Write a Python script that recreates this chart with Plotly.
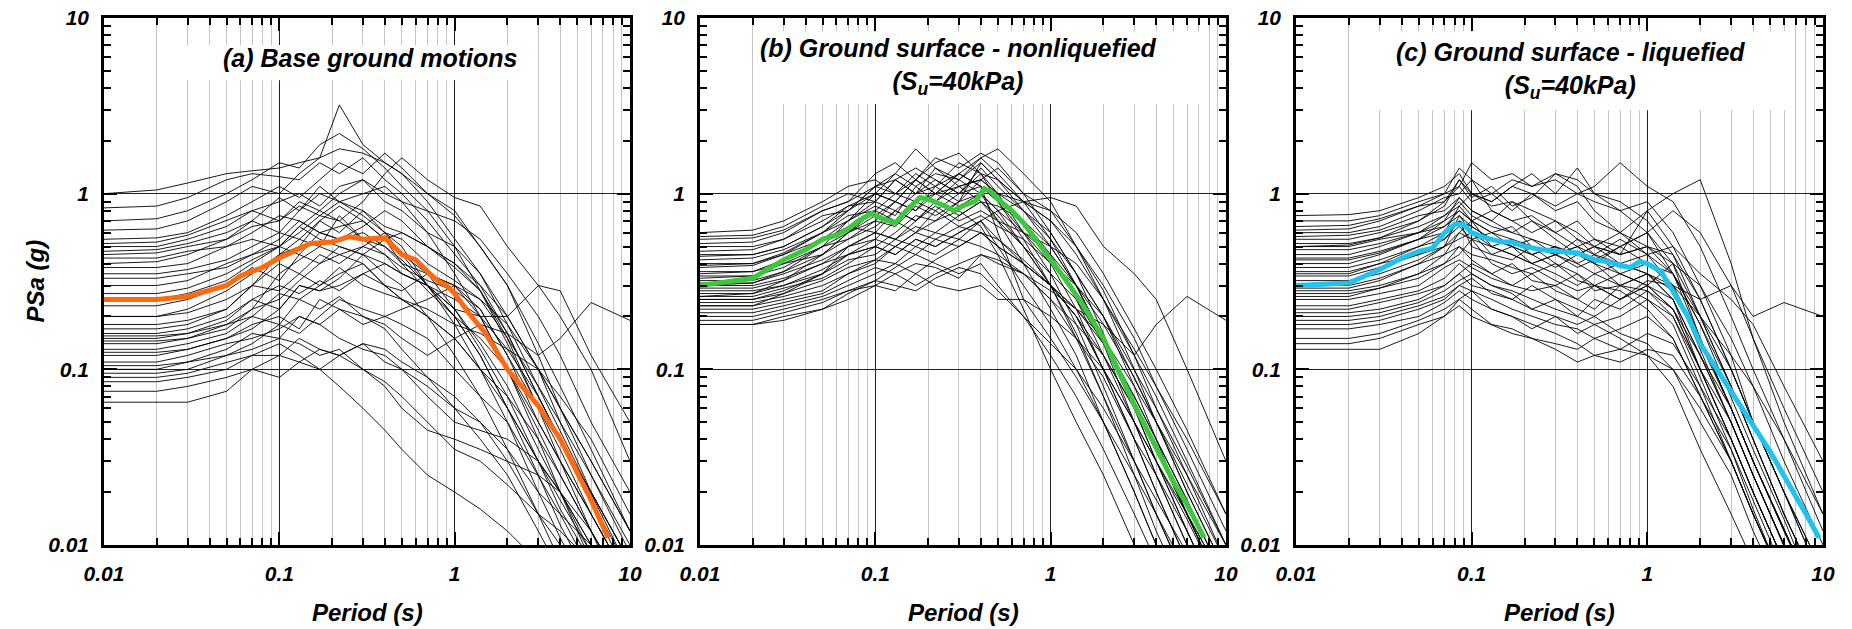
import plotly.graph_objects as go

# ---------------- data ----------------
periods_ab = [0.01, 0.02, 0.03, 0.05, 0.07, 0.1, 0.13, 0.17, 0.22, 0.3, 0.4, 0.5, 0.7, 1.0, 1.4, 2, 3, 4, 6, 10]
periods_c = [0.01, 0.02, 0.03, 0.05, 0.07, 0.085, 0.1, 0.13, 0.17, 0.22, 0.3, 0.4, 0.5, 0.7, 1.0, 1.4, 2, 3, 4, 6, 10]

records_a = [
    [1.0, 1.05, 1.15, 1.3, 1.35, 1.4, 1.5, 1.6, 1.8, 1.7, 1.5, 1.3, 1.0, 0.75, 0.5, 0.3, 0.14, 0.08, 0.035, 0.012],
    [0.83, 0.85, 0.95, 1.2, 1.3, 1.25, 1.2, 1.5, 1.3, 1.6, 1.2, 1.0, 0.7, 0.45, 0.3, 0.16, 0.07, 0.04, 0.018, 0.006],
    [0.7, 0.72, 0.8, 1.0, 1.2, 1.5, 1.4, 1.9, 2.2, 1.8, 1.4, 1.1, 0.8, 0.5, 0.28, 0.15, 0.06, 0.03, 0.012, 0.004],
    [0.62, 0.63, 0.7, 0.9, 1.1, 1.0, 1.3, 1.6, 3.2, 1.9, 1.5, 1.3, 0.9, 0.55, 0.35, 0.18, 0.08, 0.045, 0.02, 0.007],
    [0.55, 0.56, 0.6, 0.75, 0.9, 1.1, 0.95, 1.2, 1.5, 1.3, 1.7, 1.4, 1.0, 0.8, 0.5, 0.3, 0.12, 0.06, 0.025, 0.009],
    [0.5, 0.5, 0.55, 0.65, 0.8, 0.9, 1.0, 0.85, 1.1, 1.2, 0.9, 0.8, 0.6, 0.5, 0.35, 0.2, 0.1, 0.06, 0.03, 0.012],
    [0.47, 0.48, 0.52, 0.6, 0.7, 0.95, 0.8, 1.0, 0.9, 0.75, 0.6, 0.5, 0.3, 0.18, 0.1, 0.05, 0.02, 0.011, 0.005, 0.002],
    [0.45, 0.46, 0.5, 0.55, 0.65, 0.7, 0.85, 0.75, 0.9, 1.0, 1.1, 0.9, 0.8, 0.7, 0.55, 0.35, 0.2, 0.12, 0.05, 0.02],
    [0.43, 0.43, 0.47, 0.5, 0.6, 0.75, 0.7, 0.6, 0.65, 0.7, 0.55, 0.4, 0.28, 0.2, 0.12, 0.06, 0.03, 0.016, 0.008, 0.003],
    [0.4, 0.41, 0.45, 0.55, 0.7, 0.6, 0.8, 1.1, 0.9, 0.8, 0.65, 0.6, 0.5, 0.4, 0.28, 0.14, 0.06, 0.035, 0.015, 0.006],
    [0.38, 0.38, 0.4, 0.5, 0.55, 0.5, 0.65, 0.55, 0.5, 0.45, 0.4, 0.35, 0.3, 0.25, 0.2, 0.13, 0.07, 0.04, 0.02, 0.008],
    [0.35, 0.35, 0.37, 0.42, 0.5, 0.6, 0.55, 0.7, 0.85, 0.7, 0.55, 0.45, 0.35, 0.22, 0.13, 0.07, 0.03, 0.018, 0.009, 0.004],
    [0.3, 0.3, 0.32, 0.4, 0.45, 0.55, 0.7, 0.6, 0.55, 0.65, 0.8, 0.7, 0.5, 0.4, 0.3, 0.2, 0.1, 0.05, 0.02, 0.008],
    [0.25, 0.25, 0.27, 0.32, 0.4, 0.5, 0.45, 0.6, 0.55, 0.6, 0.5, 0.42, 0.3, 0.2, 0.15, 0.1, 0.05, 0.03, 0.015, 0.006],
    [0.23, 0.23, 0.25, 0.3, 0.38, 0.32, 0.45, 0.4, 0.5, 0.45, 0.35, 0.3, 0.2, 0.12, 0.07, 0.035, 0.015, 0.008, 0.004, 0.002],
    [0.2, 0.2, 0.21, 0.25, 0.3, 0.4, 0.35, 0.45, 0.4, 0.5, 0.6, 0.55, 0.4, 0.32, 0.25, 0.15, 0.08, 0.05, 0.025, 0.01],
    [0.18, 0.18, 0.19, 0.22, 0.3, 0.28, 0.35, 0.3, 0.38, 0.3, 0.27, 0.25, 0.22, 0.18, 0.16, 0.13, 0.1, 0.07, 0.04, 0.015],
    [0.16, 0.16, 0.17, 0.2, 0.25, 0.3, 0.27, 0.32, 0.28, 0.35, 0.4, 0.35, 0.3, 0.22, 0.2, 0.2, 0.3, 0.28, 0.12, 0.05],
    [0.155, 0.155, 0.16, 0.18, 0.22, 0.25, 0.32, 0.4, 0.45, 0.5, 0.45, 0.35, 0.3, 0.22, 0.14, 0.08, 0.035, 0.02, 0.01, 0.004],
    [0.15, 0.15, 0.16, 0.19, 0.25, 0.22, 0.3, 0.28, 0.3, 0.35, 0.3, 0.28, 0.35, 0.3, 0.25, 0.18, 0.1, 0.06, 0.03, 0.012],
    [0.14, 0.14, 0.15, 0.18, 0.2, 0.27, 0.25, 0.22, 0.26, 0.2, 0.17, 0.13, 0.09, 0.06, 0.04, 0.025, 0.012, 0.007, 0.003, 0.0012],
    [0.13, 0.13, 0.14, 0.16, 0.2, 0.18, 0.25, 0.3, 0.35, 0.4, 0.3, 0.25, 0.2, 0.15, 0.1, 0.06, 0.03, 0.02, 0.009, 0.004],
    [0.12, 0.12, 0.13, 0.15, 0.18, 0.2, 0.17, 0.25, 0.22, 0.18, 0.2, 0.22, 0.25, 0.3, 0.22, 0.12, 0.06, 0.04, 0.02, 0.008],
    [0.11, 0.11, 0.12, 0.14, 0.15, 0.17, 0.2, 0.18, 0.15, 0.13, 0.12, 0.1, 0.08, 0.06, 0.05, 0.035, 0.02, 0.015, 0.01, 0.005],
    [0.1, 0.1, 0.11, 0.12, 0.14, 0.18, 0.16, 0.2, 0.25, 0.22, 0.2, 0.18, 0.15, 0.1, 0.07, 0.05, 0.025, 0.015, 0.007, 0.003],
    [0.095, 0.095, 0.1, 0.12, 0.13, 0.15, 0.14, 0.12, 0.13, 0.1, 0.08, 0.06, 0.045, 0.04, 0.035, 0.03, 0.025, 0.02, 0.012, 0.005],
    [0.09, 0.09, 0.095, 0.11, 0.12, 0.12, 0.15, 0.13, 0.12, 0.14, 0.11, 0.1, 0.07, 0.05, 0.045, 0.04, 0.03, 0.02, 0.01, 0.004],
    [0.075, 0.075, 0.08, 0.09, 0.1, 0.12, 0.11, 0.13, 0.12, 0.14, 0.13, 0.11, 0.09, 0.07, 0.05, 0.03, 0.015, 0.01, 0.005, 0.002],
    [0.065, 0.065, 0.065, 0.075, 0.1, 0.09, 0.11, 0.1, 0.12, 0.1, 0.085, 0.07, 0.05, 0.035, 0.03, 0.022, 0.015, 0.012, 0.008, 0.004],
    [0.33, 0.33, 0.35, 0.38, 0.45, 0.5, 0.6, 0.75, 0.7, 0.9, 1.3, 1.6, 1.2, 0.95, 0.85, 0.5, 0.3, 0.2, 0.1, 0.03],
    [0.105, 0.105, 0.11, 0.13, 0.16, 0.15, 0.2, 0.18, 0.22, 0.2, 0.18, 0.15, 0.12, 0.15, 0.18, 0.16, 0.12, 0.15, 0.24, 0.19],
    [0.085, 0.085, 0.09, 0.1, 0.12, 0.14, 0.12, 0.1, 0.08, 0.06, 0.045, 0.035, 0.025, 0.02, 0.016, 0.012, 0.008, 0.006, 0.004, 0.002],
    [0.17, 0.17, 0.18, 0.22, 0.3, 0.45, 0.5, 0.7, 0.6, 0.8, 0.6, 0.45, 0.3, 0.2, 0.12, 0.06, 0.025, 0.013, 0.006, 0.002],
    [0.145, 0.145, 0.15, 0.17, 0.22, 0.35, 0.42, 0.5, 0.75, 0.55, 0.5, 0.4, 0.35, 0.3, 0.2, 0.1, 0.045, 0.025, 0.012, 0.005],
    [0.52, 0.53, 0.58, 0.7, 0.8, 0.7, 0.9, 0.8, 0.7, 0.55, 0.45, 0.38, 0.32, 0.28, 0.22, 0.12, 0.05, 0.03, 0.015, 0.006],
    [0.27, 0.27, 0.29, 0.35, 0.42, 0.5, 0.65, 0.8, 1.0, 1.2, 1.0, 0.9, 0.6, 0.35, 0.2, 0.1, 0.04, 0.02, 0.008, 0.003],
    [0.2, 0.2, 0.22, 0.28, 0.35, 0.45, 0.55, 0.5, 0.45, 0.4, 0.3, 0.25, 0.2, 0.15, 0.1, 0.07, 0.04, 0.025, 0.012, 0.005],
    [0.125, 0.125, 0.13, 0.15, 0.17, 0.22, 0.3, 0.28, 0.33, 0.45, 0.55, 0.6, 0.5, 0.38, 0.28, 0.16, 0.07, 0.04, 0.018, 0.007],
]

records_b = [
    [0.6, 0.62, 0.7, 0.9, 1.1, 1.2, 1.0, 1.3, 1.1, 1.5, 1.3, 1.0, 0.6, 0.35, 0.18, 0.08, 0.03, 0.015, 0.006, 0.002],
    [0.57, 0.58, 0.65, 0.85, 1.0, 0.9, 1.2, 1.4, 1.2, 1.0, 1.4, 1.1, 0.8, 0.6, 0.35, 0.16, 0.06, 0.03, 0.012, 0.004],
    [0.52, 0.53, 0.6, 0.8, 0.9, 1.1, 1.3, 1.1, 1.3, 1.2, 1.6, 1.3, 0.9, 0.55, 0.3, 0.15, 0.06, 0.03, 0.012, 0.004],
    [0.5, 0.5, 0.55, 0.7, 0.85, 1.0, 0.9, 1.2, 1.0, 1.3, 1.1, 0.9, 0.7, 0.5, 0.3, 0.14, 0.05, 0.025, 0.01, 0.003],
    [0.47, 0.48, 0.55, 0.75, 0.8, 1.1, 1.2, 1.0, 1.4, 1.1, 1.2, 1.4, 1.0, 0.8, 0.5, 0.25, 0.1, 0.05, 0.02, 0.007],
    [0.45, 0.45, 0.5, 0.65, 0.85, 0.9, 0.8, 1.0, 1.2, 1.0, 1.1, 0.9, 0.55, 0.3, 0.16, 0.07, 0.025, 0.012, 0.005, 0.0015],
    [0.42, 0.43, 0.48, 0.6, 0.75, 0.8, 1.0, 0.9, 0.8, 1.0, 1.3, 1.2, 0.9, 0.7, 0.45, 0.25, 0.12, 0.07, 0.03, 0.01],
    [0.4, 0.4, 0.45, 0.6, 0.7, 0.85, 0.75, 1.1, 0.9, 1.2, 1.0, 0.7, 0.4, 0.22, 0.12, 0.05, 0.02, 0.01, 0.004, 0.0012],
    [0.38, 0.39, 0.45, 0.55, 0.7, 1.0, 0.9, 0.8, 1.1, 0.9, 1.5, 1.2, 0.8, 0.5, 0.3, 0.15, 0.07, 0.04, 0.018, 0.006],
    [0.36, 0.36, 0.4, 0.5, 0.6, 0.75, 0.9, 1.2, 1.0, 0.85, 1.0, 0.8, 0.6, 0.45, 0.3, 0.18, 0.09, 0.05, 0.022, 0.008],
    [0.35, 0.36, 0.42, 0.55, 0.65, 0.6, 0.8, 0.7, 0.9, 1.1, 0.9, 0.75, 0.5, 0.3, 0.15, 0.07, 0.03, 0.015, 0.006, 0.002],
    [0.34, 0.34, 0.38, 0.5, 0.55, 0.7, 0.65, 0.85, 0.75, 0.9, 1.2, 1.0, 0.9, 0.8, 0.6, 0.35, 0.17, 0.1, 0.045, 0.015],
    [0.33, 0.34, 0.4, 0.45, 0.6, 0.8, 0.7, 0.9, 1.0, 1.3, 1.1, 0.6, 0.25, 0.15, 0.09, 0.05, 0.025, 0.015, 0.007, 0.002],
    [0.32, 0.32, 0.36, 0.45, 0.55, 0.65, 0.8, 0.7, 0.85, 0.7, 0.8, 0.7, 0.6, 0.5, 0.4, 0.25, 0.13, 0.08, 0.04, 0.015],
    [0.31, 0.31, 0.35, 0.42, 0.5, 0.6, 0.55, 0.65, 0.6, 0.75, 0.9, 0.85, 0.7, 0.45, 0.25, 0.12, 0.05, 0.025, 0.01, 0.003],
    [0.3, 0.3, 0.33, 0.4, 0.5, 0.55, 0.7, 0.6, 0.7, 0.9, 1.0, 0.8, 0.5, 0.3, 0.2, 0.12, 0.06, 0.035, 0.015, 0.005],
    [0.29, 0.29, 0.32, 0.4, 0.45, 0.5, 0.45, 0.55, 0.5, 0.6, 0.7, 0.55, 0.42, 0.3, 0.22, 0.14, 0.07, 0.04, 0.018, 0.006],
    [0.28, 0.28, 0.3, 0.37, 0.45, 0.55, 0.5, 0.6, 0.8, 0.65, 0.75, 0.65, 0.55, 0.4, 0.3, 0.2, 0.1, 0.06, 0.028, 0.01],
    [0.27, 0.27, 0.3, 0.35, 0.42, 0.45, 0.55, 0.5, 0.6, 0.55, 0.7, 0.5, 0.3, 0.18, 0.1, 0.05, 0.02, 0.01, 0.004, 0.0012],
    [0.26, 0.26, 0.29, 0.33, 0.4, 0.5, 0.45, 0.55, 0.5, 0.6, 0.7, 0.8, 0.9, 0.95, 0.85, 0.5, 0.35, 0.25, 0.1, 0.03],
    [0.25, 0.25, 0.27, 0.32, 0.38, 0.42, 0.5, 0.45, 0.55, 0.65, 0.6, 0.5, 0.4, 0.3, 0.22, 0.18, 0.12, 0.18, 0.26, 0.19],
    [0.25, 0.25, 0.28, 0.35, 0.45, 0.5, 0.6, 0.75, 0.7, 0.8, 0.65, 0.45, 0.22, 0.1, 0.05, 0.025, 0.01, 0.006, 0.003, 0.001],
    [0.24, 0.24, 0.26, 0.3, 0.35, 0.42, 0.4, 0.5, 0.45, 0.55, 0.5, 0.45, 0.35, 0.25, 0.15, 0.09, 0.04, 0.025, 0.012, 0.004],
    [0.23, 0.23, 0.25, 0.28, 0.35, 0.4, 0.5, 0.6, 0.55, 0.5, 0.6, 0.55, 0.4, 0.3, 0.2, 0.1, 0.04, 0.02, 0.008, 0.003],
    [0.22, 0.22, 0.24, 0.27, 0.32, 0.38, 0.35, 0.4, 0.38, 0.33, 0.45, 0.4, 0.35, 0.28, 0.22, 0.15, 0.08, 0.05, 0.025, 0.01],
    [0.21, 0.21, 0.23, 0.26, 0.3, 0.35, 0.4, 0.35, 0.42, 0.5, 0.6, 0.5, 0.4, 0.3, 0.2, 0.1, 0.05, 0.03, 0.014, 0.005],
    [0.2, 0.2, 0.22, 0.25, 0.28, 0.32, 0.38, 0.45, 0.4, 0.35, 0.4, 0.3, 0.2, 0.12, 0.07, 0.035, 0.015, 0.008, 0.004, 0.0013],
    [0.19, 0.19, 0.21, 0.24, 0.28, 0.3, 0.28, 0.35, 0.3, 0.28, 0.3, 0.25, 0.25, 0.2, 0.15, 0.1, 0.05, 0.03, 0.015, 0.006],
    [0.18, 0.18, 0.2, 0.22, 0.25, 0.3, 0.35, 0.3, 0.35, 0.4, 0.45, 0.42, 0.35, 0.25, 0.18, 0.12, 0.06, 0.035, 0.015, 0.006],
    [0.18, 0.18, 0.19, 0.22, 0.27, 0.32, 0.3, 0.28, 0.33, 0.38, 0.35, 0.28, 0.2, 0.14, 0.1, 0.06, 0.03, 0.018, 0.009, 0.003],
    [0.55, 0.56, 0.62, 0.8, 0.9, 1.3, 1.5, 1.2, 1.6, 1.4, 1.7, 1.5, 1.0, 0.6, 0.35, 0.2, 0.08, 0.04, 0.015, 0.005],
    [0.44, 0.45, 0.5, 0.65, 0.8, 1.0, 1.3, 1.8, 1.4, 1.2, 1.5, 1.2, 0.9, 0.7, 0.5, 0.3, 0.15, 0.08, 0.035, 0.012],
    [0.39, 0.4, 0.46, 0.6, 0.8, 1.1, 1.0, 1.2, 1.5, 1.7, 1.3, 0.9, 0.6, 0.4, 0.22, 0.1, 0.04, 0.02, 0.008, 0.003],
    [0.3, 0.31, 0.36, 0.5, 0.7, 0.9, 1.2, 1.0, 1.1, 1.3, 1.6, 1.8, 1.3, 0.9, 0.5, 0.28, 0.12, 0.06, 0.025, 0.008],
    [0.26, 0.27, 0.32, 0.45, 0.6, 0.7, 0.9, 0.8, 1.0, 1.1, 1.2, 1.0, 0.8, 0.55, 0.35, 0.2, 0.09, 0.05, 0.02, 0.007],
    [0.23, 0.23, 0.27, 0.35, 0.5, 0.6, 0.55, 0.7, 0.9, 0.75, 0.9, 0.7, 0.5, 0.35, 0.25, 0.14, 0.06, 0.035, 0.015, 0.005],
]

records_c = [
    [0.75, 0.76, 0.8, 0.95, 1.1, 1.3, 1.0, 0.9, 1.1, 1.0, 0.8, 0.9, 0.7, 0.6, 0.8, 0.5, 0.25, 0.1, 0.05, 0.02, 0.006],
    [0.7, 0.7, 0.75, 0.9, 1.0, 1.1, 1.5, 1.2, 1.3, 1.1, 1.2, 1.0, 0.9, 0.8, 0.6, 0.35, 0.15, 0.06, 0.03, 0.012, 0.004],
    [0.65, 0.66, 0.72, 0.85, 0.9, 1.2, 0.95, 1.1, 0.85, 0.95, 1.3, 1.1, 0.8, 0.6, 0.5, 0.4, 0.2, 0.08, 0.04, 0.015, 0.005],
    [0.6, 0.6, 0.65, 0.8, 0.95, 1.0, 1.2, 0.8, 0.7, 0.75, 0.6, 0.7, 0.55, 0.45, 0.5, 0.35, 0.18, 0.07, 0.035, 0.014, 0.004],
    [0.57, 0.58, 0.62, 0.75, 0.8, 0.95, 0.8, 0.7, 0.9, 0.8, 0.7, 0.55, 0.5, 0.6, 0.45, 0.3, 0.15, 0.06, 0.03, 0.012, 0.004],
    [0.55, 0.55, 0.6, 0.7, 0.9, 1.1, 0.9, 1.0, 0.8, 1.0, 0.85, 1.0, 1.1, 1.5, 1.1, 0.9, 0.5, 0.2, 0.1, 0.04, 0.012],
    [0.52, 0.52, 0.56, 0.65, 0.75, 0.85, 1.0, 0.9, 1.1, 1.3, 1.0, 1.4, 1.0, 0.8, 0.9, 0.6, 0.3, 0.12, 0.05, 0.02, 0.006],
    [0.5, 0.5, 0.55, 0.6, 0.7, 0.8, 0.7, 0.6, 0.65, 0.5, 0.45, 0.55, 0.45, 0.35, 0.3, 0.22, 0.1, 0.04, 0.02, 0.008, 0.0025],
    [0.48, 0.48, 0.52, 0.6, 0.75, 0.9, 0.75, 0.65, 0.6, 0.7, 0.55, 0.45, 0.4, 0.5, 0.4, 0.3, 0.13, 0.05, 0.025, 0.01, 0.003],
    [0.45, 0.45, 0.5, 0.6, 0.65, 0.8, 0.7, 0.8, 0.7, 0.6, 0.7, 0.6, 0.5, 0.45, 0.8, 1.0, 1.2, 0.4, 0.15, 0.05, 0.015],
    [0.43, 0.43, 0.47, 0.55, 0.6, 0.7, 0.65, 0.55, 0.5, 0.45, 0.5, 0.4, 0.35, 0.4, 0.35, 0.25, 0.12, 0.05, 0.025, 0.01, 0.003],
    [0.4, 0.4, 0.45, 0.55, 0.65, 0.75, 0.6, 0.5, 0.55, 0.45, 0.38, 0.45, 0.4, 0.3, 0.28, 0.2, 0.09, 0.035, 0.016, 0.006, 0.002],
    [0.38, 0.38, 0.42, 0.5, 0.55, 0.65, 0.55, 0.6, 0.5, 0.55, 0.45, 0.5, 0.45, 0.4, 0.45, 0.5, 0.35, 0.25, 0.18, 0.08, 0.03],
    [0.36, 0.36, 0.4, 0.45, 0.5, 0.6, 0.7, 0.5, 0.45, 0.4, 0.35, 0.3, 0.35, 0.3, 0.35, 0.28, 0.14, 0.06, 0.03, 0.012, 0.004],
    [0.34, 0.34, 0.38, 0.45, 0.55, 0.7, 0.5, 0.45, 0.42, 0.5, 0.4, 0.35, 0.3, 0.35, 0.3, 0.22, 0.1, 0.04, 0.02, 0.008, 0.0025],
    [0.32, 0.32, 0.35, 0.42, 0.5, 0.55, 0.6, 0.45, 0.5, 0.4, 0.45, 0.38, 0.42, 0.5, 0.6, 0.8, 0.6, 0.3, 0.15, 0.06, 0.02],
    [0.3, 0.3, 0.33, 0.4, 0.45, 0.5, 0.45, 0.42, 0.38, 0.35, 0.4, 0.32, 0.3, 0.25, 0.3, 0.25, 0.12, 0.05, 0.025, 0.01, 0.003],
    [0.28, 0.28, 0.3, 0.35, 0.4, 0.5, 0.42, 0.35, 0.4, 0.32, 0.3, 0.35, 0.28, 0.3, 0.25, 0.18, 0.08, 0.03, 0.015, 0.006, 0.002],
    [0.27, 0.27, 0.29, 0.33, 0.4, 0.45, 0.55, 0.4, 0.35, 0.38, 0.32, 0.28, 0.3, 0.25, 0.32, 0.3, 0.2, 0.12, 0.08, 0.04, 0.015],
    [0.25, 0.25, 0.27, 0.3, 0.38, 0.42, 0.38, 0.33, 0.3, 0.28, 0.3, 0.25, 0.22, 0.3, 0.35, 0.3, 0.25, 0.3, 0.2, 0.24, 0.2],
    [0.23, 0.23, 0.25, 0.28, 0.33, 0.4, 0.35, 0.3, 0.28, 0.25, 0.22, 0.2, 0.18, 0.15, 0.12, 0.08, 0.035, 0.015, 0.008, 0.003, 0.001],
    [0.22, 0.22, 0.24, 0.27, 0.3, 0.35, 0.4, 0.35, 0.3, 0.35, 0.28, 0.25, 0.3, 0.28, 0.22, 0.15, 0.07, 0.03, 0.015, 0.006, 0.002],
    [0.21, 0.21, 0.22, 0.25, 0.3, 0.35, 0.3, 0.28, 0.25, 0.3, 0.25, 0.2, 0.25, 0.22, 0.28, 0.22, 0.12, 0.06, 0.03, 0.012, 0.004],
    [0.2, 0.2, 0.21, 0.24, 0.28, 0.32, 0.35, 0.3, 0.27, 0.22, 0.2, 0.18, 0.2, 0.16, 0.14, 0.1, 0.05, 0.025, 0.012, 0.005, 0.0015],
    [0.19, 0.19, 0.2, 0.23, 0.26, 0.3, 0.28, 0.25, 0.22, 0.2, 0.18, 0.17, 0.15, 0.17, 0.2, 0.15, 0.07, 0.03, 0.015, 0.006, 0.002],
    [0.18, 0.18, 0.19, 0.22, 0.25, 0.3, 0.33, 0.27, 0.25, 0.22, 0.25, 0.22, 0.2, 0.25, 0.3, 0.4, 0.3, 0.15, 0.08, 0.03, 0.01],
    [0.17, 0.17, 0.18, 0.2, 0.24, 0.28, 0.25, 0.22, 0.2, 0.18, 0.16, 0.14, 0.12, 0.11, 0.13, 0.12, 0.07, 0.035, 0.018, 0.007, 0.0025],
    [0.15, 0.15, 0.16, 0.19, 0.22, 0.25, 0.28, 0.22, 0.2, 0.17, 0.2, 0.16, 0.18, 0.2, 0.25, 0.2, 0.1, 0.05, 0.025, 0.01, 0.003],
    [0.14, 0.14, 0.15, 0.18, 0.2, 0.25, 0.22, 0.18, 0.17, 0.15, 0.14, 0.13, 0.15, 0.13, 0.12, 0.1, 0.06, 0.03, 0.015, 0.006, 0.002],
    [0.13, 0.13, 0.13, 0.16, 0.2, 0.23, 0.2, 0.18, 0.16, 0.15, 0.13, 0.11, 0.12, 0.13, 0.16, 0.14, 0.08, 0.04, 0.02, 0.008, 0.003],
    [0.62, 0.63, 0.7, 0.85, 1.0, 1.4, 1.2, 1.0, 1.2, 1.1, 1.3, 1.2, 1.0, 0.9, 0.7, 0.45, 0.2, 0.08, 0.04, 0.015, 0.005],
    [0.5, 0.51, 0.56, 0.7, 0.85, 1.2, 1.0, 0.85, 0.9, 0.7, 0.6, 0.5, 0.55, 0.5, 0.6, 0.4, 0.15, 0.06, 0.03, 0.012, 0.004],
    [0.42, 0.42, 0.46, 0.55, 0.7, 0.95, 0.8, 0.7, 0.6, 0.55, 0.5, 0.45, 0.5, 0.45, 0.5, 0.45, 0.25, 0.1, 0.05, 0.02, 0.007],
    [0.35, 0.35, 0.4, 0.5, 0.6, 0.85, 0.7, 0.6, 0.55, 0.5, 0.45, 0.4, 0.45, 0.55, 0.45, 0.35, 0.18, 0.08, 0.04, 0.015, 0.005],
    [0.26, 0.26, 0.29, 0.35, 0.45, 0.6, 0.55, 0.5, 0.45, 0.4, 0.45, 0.5, 0.4, 0.35, 0.4, 0.35, 0.2, 0.1, 0.05, 0.02, 0.007],
    [0.29, 0.29, 0.32, 0.4, 0.5, 0.75, 0.65, 0.55, 0.5, 0.45, 0.5, 0.45, 0.5, 0.4, 0.35, 0.25, 0.1, 0.04, 0.02, 0.008, 0.003],
]

median_a_T = [0.01, 0.02, 0.03, 0.04, 0.05, 0.06, 0.07, 0.08, 0.1, 0.12, 0.15, 0.2, 0.25, 0.3, 0.4, 0.5, 0.6, 0.7, 0.8, 0.9, 1.0, 1.2, 1.5, 2, 3, 4, 5, 6, 7.5]
median_a = [0.25, 0.25, 0.26, 0.28, 0.30, 0.34, 0.36, 0.38, 0.43, 0.47, 0.52, 0.53, 0.57, 0.55, 0.56, 0.45, 0.42, 0.36, 0.32, 0.30, 0.27, 0.21, 0.16, 0.10, 0.062, 0.04, 0.026, 0.018, 0.011]

median_b_T = [0.01, 0.02, 0.03, 0.04, 0.05, 0.06, 0.07, 0.08, 0.095, 0.11, 0.13, 0.15, 0.18, 0.2, 0.25, 0.28, 0.33, 0.37, 0.42, 0.46, 0.5, 0.6, 0.7, 0.8, 0.9, 1.0, 1.2, 1.5, 2, 3, 4, 5, 6, 7.5]
median_b = [0.3, 0.33, 0.42, 0.48, 0.55, 0.58, 0.63, 0.7, 0.77, 0.72, 0.68, 0.8, 0.95, 0.93, 0.85, 0.8, 0.87, 0.9, 1.07, 1.02, 0.93, 0.8, 0.68, 0.57, 0.48, 0.42, 0.33, 0.24, 0.15, 0.063, 0.036, 0.023, 0.017, 0.011]

median_c_T = [0.01, 0.02, 0.03, 0.04, 0.05, 0.06, 0.07, 0.08, 0.09, 0.1, 0.12, 0.15, 0.17, 0.2, 0.25, 0.3, 0.4, 0.5, 0.6, 0.7, 0.8, 0.9, 1.0, 1.2, 1.4, 1.7, 2, 2.5, 3, 4, 5, 6, 7, 8, 9.5]
median_c = [0.3, 0.31, 0.37, 0.43, 0.47, 0.49, 0.6, 0.67, 0.67, 0.6, 0.56, 0.53, 0.53, 0.5, 0.48, 0.47, 0.46, 0.42, 0.41, 0.39, 0.38, 0.41, 0.4, 0.36, 0.28, 0.2, 0.14, 0.1, 0.075, 0.048, 0.034, 0.025, 0.019, 0.015, 0.011]

titles = [
    "(a) Base ground motions",
    "(b) Ground surface - nonliquefied<br>(S<sub>u</sub>=40kPa)",
    "(c) Ground surface - liquefied<br>(S<sub>u</sub>=40kPa)",
]
x_title = "Period (s)"
y_title = "PSa (g)"
major_ticks = [0.01, 0.1, 1, 10]
major_text = ["0.01", "0.1", "1", "10"]
minor_ticks = [m * d for d in (0.01, 0.1, 1) for m in range(2, 10)]

median_colors = ["#ff6a10", "#3cc83c", "#1ec3ef"]

# ---------------- figure ----------------
W, H = 1852, 629
x_px = [(104, 630), (700, 1226), (1296, 1823)]
y_px = (18, 545)

fig = go.Figure()
FONT = "Liberation Sans, Arial, sans-serif"

panels = [
    (periods_ab, records_a, median_a_T, median_a),
    (periods_ab, records_b, median_b_T, median_b),
    (periods_c, records_c, median_c_T, median_c),
]

for i, (T, recs, mT, mv) in enumerate(panels):
    xa = "x" if i == 0 else f"x{i+1}"
    ya = "y" if i == 0 else f"y{i+1}"
    for r in recs:
        fig.add_trace(go.Scatter(x=T, y=r, mode="lines", xaxis=xa, yaxis=ya,
                                 line=dict(color="black", width=0.9),
                                 showlegend=False, hoverinfo="skip"))
    fig.add_trace(go.Scatter(x=mT, y=mv, mode="lines", xaxis=xa, yaxis=ya,
                             line=dict(color=median_colors[i], width=5),
                             showlegend=False, hoverinfo="skip"))

tickfont = dict(family=FONT, size=21, color="black", weight="bold", style="italic")
titlefont = dict(family=FONT, size=25, color="black", weight="bold", style="italic")
axtitlefont = dict(family=FONT, size=24, color="black", weight="bold", style="italic")

layout = dict(width=W, height=H, margin=dict(l=0, r=0, t=0, b=0, autoexpand=False),
              paper_bgcolor="white", plot_bgcolor="white", showlegend=False)

for i in range(3):
    xs = "xaxis" if i == 0 else f"xaxis{i+1}"
    ys = "yaxis" if i == 0 else f"yaxis{i+1}"
    yname = "y" if i == 0 else f"y{i+1}"
    xname = "x" if i == 0 else f"x{i+1}"
    x0, x1 = x_px[i]
    layout[xs] = dict(
        type="log", range=[-2, 1], domain=[x0 / W, x1 / W], anchor=yname,
        automargin=False,
        tickvals=major_ticks, ticktext=major_text, ticks="inside", ticklen=13,
        tickwidth=2, tickcolor="black", showline=True, linecolor="black",
        linewidth=2.5, mirror="allticks", showgrid=True, gridcolor="#222222",
        gridwidth=1, zeroline=False, tickfont=tickfont, ticklabelstandoff=8,
        minor=dict(tickvals=minor_ticks, ticks="inside", ticklen=7, tickwidth=1.5,
                   tickcolor="black", showgrid=True, gridcolor="#c4c4c4", gridwidth=1),
    )
    layout[ys] = dict(
        type="log", range=[-2, 1], domain=[1 - y_px[1] / H, 1 - y_px[0] / H], anchor=xname,
        automargin=False,
        tickvals=major_ticks, ticktext=major_text, ticks="inside", ticklen=13,
        tickwidth=2, tickcolor="black", showline=True, linecolor="black",
        linewidth=2.5, mirror="allticks", showgrid=True, gridcolor="#222222",
        gridwidth=1, zeroline=False, tickfont=tickfont, ticklabelstandoff=8,
        minor=dict(tickvals=minor_ticks, ticks="inside", ticklen=7, tickwidth=1.5,
                   tickcolor="black", showgrid=False),
    )

fig.update_layout(**layout)

# white boxes behind the titles (hide the grid there), then the titles
boxes = [(0.14, 0.806, 0.882, 0.949), (0.11, 0.96, 0.837, 0.975), (0.14, 0.93, 0.825, 0.975)]
title_pos = [(0.5076, 0.924), (0.4905, 0.9089), (0.5218, 0.9013)]
for i in range(3):
    xd = ("x" if i == 0 else f"x{i+1}") + " domain"
    yd = ("y" if i == 0 else f"y{i+1}") + " domain"
    bx0, bx1, by0, by1 = boxes[i]
    fig.add_shape(type="rect", xref=xd, yref=yd, x0=bx0, x1=bx1, y0=by0, y1=by1,
                  fillcolor="white", line=dict(width=0), layer="above")
    tx, ty = title_pos[i]
    fig.add_annotation(text=titles[i], xref=xd, yref=yd, x=tx, y=ty, showarrow=False,
                       font=titlefont, xanchor="center", yanchor="middle", align="center")
    # x-axis title under each panel
    x0, x1 = x_px[i]
    fig.add_annotation(text=x_title, xref="paper", yref="paper",
                       x=(x0 + x1) / 2 / W, y=1 - 612 / H, showarrow=False,
                       font=axtitlefont, xanchor="center", yanchor="middle")

fig.add_annotation(text=y_title, xref="paper", yref="paper", x=35 / W,
                   y=1 - (y_px[0] + y_px[1]) / 2 / H, textangle=-90, showarrow=False,
                   font=axtitlefont, xanchor="center", yanchor="middle")

fig.write_html("out.html")
